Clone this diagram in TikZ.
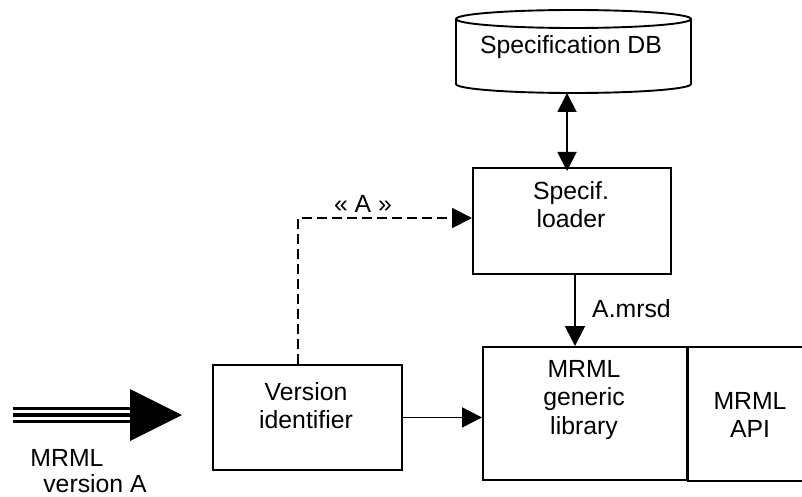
\documentclass[tikz,border=0pt]{standalone}
\usepackage{fontspec}
\setmainfont{Liberation Sans}
\usetikzlibrary{arrows.meta}
\begin{document}
\begin{tikzpicture}[x=1pt,y=-1pt,
  lw/.style={line width=1.9pt},
  box/.style={draw, lw, inner sep=0pt, anchor=north west},
  txt/.style={font=\fontsize{24.8}{28.5}\selectfont, align=center, inner sep=0pt},
  arr/.style={lw, -{Triangle[length=20pt,width=20pt]}},
  darr/.style={lw, {Triangle[length=19pt,width=19pt]}-{Triangle[length=19pt,width=19pt]}},
  dsh/.style={lw, dash pattern=on 10pt off 5pt}
]
\useasboundingbox (0,0) rectangle (802,497);

% cylinder (Specification DB)
\draw[lw] (456,19) -- (456,84) arc[start angle=180, end angle=360, x radius=117.5pt, y radius=9pt] -- (691,19);
\draw[lw] (573.5,19) ellipse[x radius=117.5pt, y radius=9pt];
\node[txt, anchor=north] (dbt) at (571,35) {Specification DB};
\coordinate (dbbot) at (567,93);

% boxes
\node[box, minimum width=198pt, minimum height=106pt] (loader) at (472,167) {};
\node[txt, anchor=north] (loadert) at (571,181) {Specif.\\loader};

\node[box, minimum width=189pt, minimum height=105pt] (ver) at (212,364) {};
\node[txt, anchor=north] (vert) at (306,382) {Version\\identifier};

\node[box, minimum width=204pt, minimum height=133pt] (lib) at (482,346) {};
\node[txt, anchor=north] (libt) at (584,360) {MRML\\generic\\library};

\node[box, minimum width=130pt, minimum height=134pt] (api) at (687,346) {};
\node[txt, anchor=north] (apit) at (750,392) {MRML\\API};

% connectors
\draw[darr] (dbbot) -- ([yshift=-4pt]dbbot |- loader.north);
\draw[arr] (loader.south -| 575,0) -- (lib.north -| 575,0);
\node[txt, anchor=north west] (mrsd) at (592,299) {A.mrsd};

\draw[arr] (ver.east) -- (ver.east -| lib.west);

\draw[dsh] (ver.north -| 298,0) -- (298,218) -- ([xshift=-19pt]loader.west |- 0,218);
\draw[arr] ([xshift=-20pt]loader.west |- 0,218) -- (loader.west |- 0,218);
\node[txt, anchor=north] (qa) at (363,195) {« A »};

% big input arrow
\coordinate (bigtail) at (13,415);
\coordinate (bighead) at (130,415);
\coordinate (bigtip) at (182,415);
\draw[line width=3pt] (13,408.5) -- (132,408.5);
\draw[line width=4pt] (bigtail) -- ([xshift=2pt]bighead);
\draw[line width=2.6pt] (13,421.5) -- (132,421.5);
\fill (bighead |- 0,389) -- (bigtip) -- (bighead |- 0,441) -- cycle;

\node[txt, anchor=north] (mrml) at (67,449) {MRML};
\node[txt, anchor=north] (vera) at (95,474) {version A};
\end{tikzpicture}
\end{document}
